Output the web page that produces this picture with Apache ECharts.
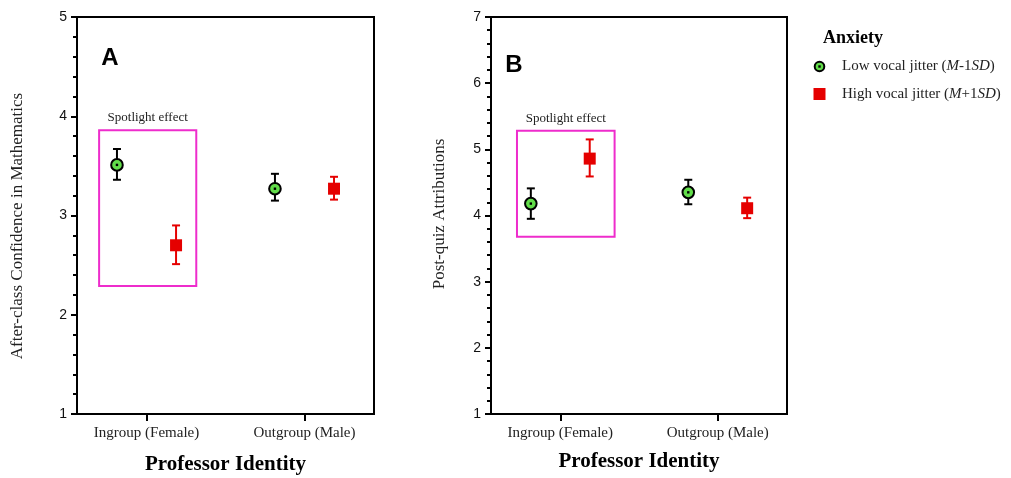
<!DOCTYPE html>
<html><head><meta charset="utf-8">
<script src="https://cdn.jsdelivr.net/npm/echarts@6/dist/echarts.min.js"></script>
<style>html,body{margin:0;padding:0;background:#fff}#c{width:1011px;height:478px}</style>
</head><body><div id="c"></div>
<script>
const categories = ['Ingroup (Female)', 'Outgroup (Male)'];
const legendTitle = 'Anxiety';
const legendLabels = ['{n|Low vocal jitter (}{i|M}{n|-1}{i|SD}{n|)}', '{n|High vocal jitter (}{i|M}{n|+1}{i|SD}{n|)}'];
const yTitleA = 'After-class Confidence in Mathematics';
const yTitleB = 'Post-quiz Attributions';
const xTitle = 'Professor Identity';
const spotText = 'Spotlight effect';

// Panel A: after-class confidence (mean, lower, upper)
const aLowMean  = [3.51, 3.27];
const aLowLo    = [3.36, 3.15];
const aLowHi    = [3.67, 3.42];
const aHighMean = [2.70, 3.27];
const aHighLo   = [2.51, 3.16];
const aHighHi   = [2.90, 3.39];
// Panel B: post-quiz attributions
const bLowMean  = [4.18, 4.35];
const bLowLo    = [3.95, 4.17];
const bLowHi    = [4.41, 4.54];
const bHighMean = [4.86, 4.11];
const bHighLo   = [4.59, 3.96];
const bHighHi   = [5.15, 4.27];
// Spotlight boxes: [xFrom, yFrom, xTo, yTo] in data units
const aSpot = [-0.30, 2.29, 0.315, 3.86];
const bSpot = [-0.275, 3.68, 0.345, 5.28];

const DODGE = 0.187;
const GREEN = '#62dd4a', RED = '#e50000', MAG = '#ee2ccc';
const SERIF = '"Liberation Serif", "Times New Roman", serif';
const SANS = '"Liberation Sans", Arial, sans-serif';

function build(mean, lo, hi, off) {
  return categories.map((c, i) => [i + off, mean[i], lo[i], hi[i]]);
}

function errSeries(gi, data, kind) {
  return {
    type: 'custom', xAxisIndex: gi, yAxisIndex: gi, data: data, z: 10, silent: true,
    encode: { x: 0, y: [1, 2, 3] },
    renderItem: (p, api) => {
      const c = api.coord([api.value(0), api.value(1)]);
      const lo = api.coord([api.value(0), api.value(2)]);
      const hi = api.coord([api.value(0), api.value(3)]);
      const col = kind === 'low' ? '#000' : RED;
      const ls = { stroke: col, lineWidth: 2 };
      const ch = [
        { type: 'line', shape: { x1: c[0], y1: hi[1], x2: c[0], y2: lo[1] }, style: ls },
        { type: 'line', shape: { x1: c[0] - 4, y1: hi[1], x2: c[0] + 4, y2: hi[1] }, style: ls },
        { type: 'line', shape: { x1: c[0] - 4, y1: lo[1], x2: c[0] + 4, y2: lo[1] }, style: ls }
      ];
      if (kind === 'low') {
        ch.push({ type: 'circle', shape: { cx: c[0], cy: c[1], r: 5.8 }, style: { fill: GREEN, stroke: '#000', lineWidth: 2 } });
        ch.push({ type: 'rect', shape: { x: c[0] - 1.2, y: c[1] - 1.2, width: 2.4, height: 2.4 }, style: { fill: '#000' } });
      } else {
        ch.push({ type: 'rect', shape: { x: c[0] - 6, y: c[1] - 6, width: 12, height: 12 }, style: { fill: RED } });
      }
      return { type: 'group', children: ch };
    }
  };
}

function spotSeries(gi, box) {
  return {
    type: 'custom', xAxisIndex: gi, yAxisIndex: gi, data: [box], z: 5, silent: true,
    encode: { x: [0, 2], y: [1, 3] },
    renderItem: (p, api) => {
      const a = api.coord([api.value(0), api.value(3)]);
      const b = api.coord([api.value(2), api.value(1)]);
      return {
        type: 'group', children: [
          { type: 'rect', shape: { x: a[0], y: a[1], width: b[0] - a[0], height: b[1] - a[1] }, style: { fill: 'none', stroke: MAG, lineWidth: 2 } },
          { type: 'text', x: (a[0] + b[0]) / 2, y: a[1] - 6, style: { text: spotText, fill: '#222', font: '13px ' + SERIF, align: 'center', verticalAlign: 'bottom' } }
        ]
      };
    }
  };
}

function xAx(gi, gap) {
  return {
    type: 'value', gridIndex: gi, min: -0.44, max: 1.44,
    axisLine: { show: true, onZero: false, lineStyle: { color: '#000', width: 2 } },
    axisTick: { show: true, customValues: [0, 1], length: 7, lineStyle: { color: '#000', width: 2 } },
    axisLabel: { customValues: [0, 1], formatter: v => categories[Math.round(v)] || '', margin: 12, fontFamily: SERIF, fontSize: 15, color: '#222' },
    splitLine: { show: false },
    name: xTitle, nameLocation: 'middle', nameGap: gap,
    nameTextStyle: { fontFamily: SERIF, fontWeight: 'bold', fontSize: 21, color: '#000' }
  };
}
function yAx(gi, max) {
  return {
    type: 'value', gridIndex: gi, min: 1, max: max, interval: 1,
    axisLine: { show: true, onZero: false, lineStyle: { color: '#000', width: 2 } },
    axisTick: { show: true, length: 6, lineStyle: { color: '#000', width: 2 } },
    minorTick: { show: true, splitNumber: 5, length: 4, lineStyle: { color: '#000', width: 2 } },
    axisLabel: { margin: 10, fontFamily: SANS, fontSize: 14, color: '#111' },
    splitLine: { show: false }, minorSplitLine: { show: false }
  };
}

const chart = echarts.init(document.getElementById('c'));
const rich = {
  n: { fontFamily: SERIF, fontSize: 15, fill: '#222' },
  i: { fontFamily: SERIF, fontSize: 15, fontStyle: 'italic', fill: '#222' }
};
chart.setOption({
  animation: false,
  backgroundColor: '#fff',
  grid: [
    { left: 77, top: 17, width: 297, height: 397, show: true, borderColor: '#000', borderWidth: 2, outerBoundsMode: 'none', containLabel: false },
    { left: 491, top: 17, width: 296, height: 397, show: true, borderColor: '#000', borderWidth: 2, outerBoundsMode: 'none', containLabel: false }
  ],
  xAxis: [xAx(0, 40), xAx(1, 37)],
  yAxis: [yAx(0, 5), yAx(1, 7)],
  series: [
    spotSeries(0, aSpot),
    spotSeries(1, bSpot),
    errSeries(0, build(aLowMean, aLowLo, aLowHi, -DODGE), 'low'),
    errSeries(0, build(aHighMean, aHighLo, aHighHi, DODGE), 'high'),
    errSeries(1, build(bLowMean, bLowLo, bLowHi, -DODGE), 'low'),
    errSeries(1, build(bHighMean, bHighLo, bHighHi, DODGE), 'high')
  ],
  graphic: [
    { type: 'text', x: 110, y: 58, style: { text: 'A', font: 'bold 24px ' + SANS, fill: '#000', align: 'center', verticalAlign: 'middle' } },
    { type: 'text', x: 514, y: 65, style: { text: 'B', font: 'bold 24px ' + SANS, fill: '#000', align: 'center', verticalAlign: 'middle' } },
    { type: 'text', x: 18, y: 226, rotation: Math.PI / 2, style: { text: yTitleA, font: '17px ' + SERIF, fill: '#222', align: 'center', verticalAlign: 'middle' } },
    { type: 'text', x: 440, y: 214, rotation: Math.PI / 2, style: { text: yTitleB, font: '17px ' + SERIF, fill: '#222', align: 'center', verticalAlign: 'middle' } },
    { type: 'text', x: 853, y: 38, style: { text: legendTitle, font: 'bold 18px ' + SERIF, fill: '#000', align: 'center', verticalAlign: 'middle' } },
    { type: 'circle', shape: { cx: 819.5, cy: 66.5, r: 4.8 }, style: { fill: GREEN, stroke: '#000', lineWidth: 2 } },
    { type: 'rect', shape: { x: 818.3, y: 65.3, width: 2.4, height: 2.4 }, style: { fill: '#000' } },
    { type: 'text', x: 842, y: 66.5, style: { text: legendLabels[0], rich: rich, align: 'left', verticalAlign: 'middle' } },
    { type: 'rect', shape: { x: 813.5, y: 88, width: 12, height: 12 }, style: { fill: RED } },
    { type: 'text', x: 842, y: 94, style: { text: legendLabels[1], rich: rich, align: 'left', verticalAlign: 'middle' } }
  ]
});
</script>
</body></html>
